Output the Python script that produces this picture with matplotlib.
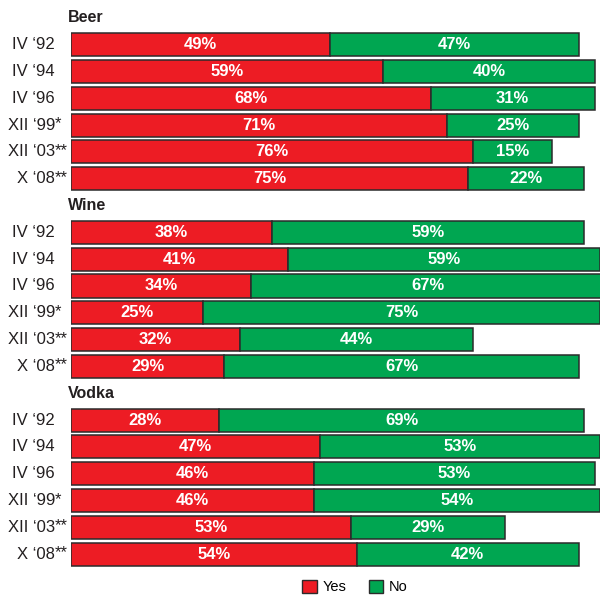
import matplotlib.pyplot as plt
from matplotlib.patches import Patch
from matplotlib.transforms import blended_transform_factory

plt.rcParams['font.family'] = ['Liberation Sans', 'DejaVu Sans']

# Survey results (percent)
groups = ['Beer', 'Wine', 'Vodka']
periods = ['IV \u201892', 'IV \u201894', 'IV \u201896', 'XII \u201899', 'XII \u201803', 'X \u201808']
marks = ['', '', '', '*', '**', '**']

beer_yes = [49, 59, 68, 71, 76, 75]
beer_no = [47, 40, 31, 25, 15, 22]
wine_yes = [38, 41, 34, 25, 32, 29]
wine_no = [59, 59, 67, 75, 44, 67]
vodka_yes = [28, 47, 46, 46, 53, 54]
vodka_no = [69, 53, 53, 54, 29, 42]

yes_vals = [beer_yes, wine_yes, vodka_yes]
no_vals = [beer_no, wine_no, vodka_no]

red = '#ED1C24'
green = '#00A651'
edge = '#2b2b2b'
txt = '#231f20'

fig = plt.figure(figsize=(6.01, 5.95), dpi=100)
ax = fig.add_axes([71 / 601, 1 - 567.5 / 595, 529 / 601, (567.5 - 4.5) / 595])
trans = blended_transform_factory(ax.transAxes, ax.transData)

for g, name in enumerate(groups):
    base = g * 7
    ax.text(-3 / 529, base, name, transform=trans, ha='left', va='center',
            fontsize=11.5, fontweight='bold', color=txt)
    for i in range(len(periods)):
        y = base + 1 + i
        yv, nv = yes_vals[g][i], no_vals[g][i]
        ax.barh(y, yv, height=0.86, color=red, edgecolor=edge, linewidth=1.1)
        ax.barh(y, nv, left=yv, height=0.86, color=green, edgecolor=edge, linewidth=1.1)
        ax.text(yv / 2, y, f'{yv}%', ha='center', va='center', color='white',
                fontsize=12, fontweight='bold')
        ax.text(yv + nv / 2, y, f'{nv}%', ha='center', va='center', color='white',
                fontsize=12, fontweight='bold')
        # period label with footnote asterisks hanging to the right
        ax.text(-16 / 529, y, periods[i], transform=trans, ha='right', va='center',
                fontsize=12, color=txt)
        if marks[i]:
            ax.text(-16 / 529, y - 0.05, marks[i], transform=trans, ha='left',
                    va='center', fontsize=12, color=txt)

ax.set_xlim(0, 100)
ax.set_ylim(20.5, -0.5)
ax.set_xticks([])
ax.set_yticks([])
for s in ax.spines.values():
    s.set_visible(False)

handles = [Patch(facecolor=red, edgecolor=edge, label='Yes'),
           Patch(facecolor=green, edgecolor=edge, label='No')]
fig.legend(handles=handles, loc='center', bbox_to_anchor=(355 / 601, 1 - 587 / 595),
           ncol=2, frameon=False, fontsize=10.5, handlelength=1.0, handleheight=1.0,
           handletextpad=0.4, columnspacing=1.5)

fig.savefig('out.png', dpi=100)
